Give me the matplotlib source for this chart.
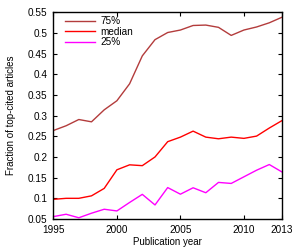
import matplotlib
matplotlib.use('Agg')
import matplotlib.pyplot as plt

years = list(range(1995, 2014))
p75 = [0.264, 0.2755, 0.2906, 0.285, 0.314, 0.336, 0.377, 0.4445, 0.4837, 0.501,
       0.507, 0.518, 0.519, 0.5135, 0.494, 0.507, 0.5144, 0.5245, 0.538]
median = [0.0976, 0.100, 0.100, 0.106, 0.124, 0.169, 0.181, 0.179, 0.200, 0.237,
          0.248, 0.2625, 0.248, 0.244, 0.248, 0.245, 0.2505, 0.270, 0.288]
p25 = [0.0558, 0.0615, 0.053, 0.064, 0.0736, 0.0695, 0.090, 0.1096, 0.084, 0.126,
       0.110, 0.1255, 0.1135, 0.1385, 0.136, 0.152, 0.168, 0.1817, 0.1637]

xticks = [1995, 2000, 2005, 2010, 2013]
yticks = [0.05, 0.1, 0.15, 0.2, 0.25, 0.3, 0.35, 0.4, 0.45, 0.5, 0.55]
ytick_labels = ['0.05', '0.1', '0.15', '0.2', '0.25', '0.3', '0.35', '0.4', '0.45', '0.5', '0.55']

plt.rcParams['font.family'] = ['Liberation Sans', 'DejaVu Sans']

fig = plt.figure(figsize=(3.0, 2.5), dpi=100)
ax = fig.add_axes([0.178, 0.124, 0.762, 0.827])

ax.plot(years, p75, color='#b33c3c', lw=1.0, label='75%')
ax.plot(years, median, color='#ff0000', lw=1.0, label='median')
ax.plot(years, p25, color='#ff00ff', lw=1.0, label='25%')

ax.set_xlim(1995, 2013)
ax.set_ylim(0.05, 0.55)
ax.set_xticks(xticks)
ax.set_yticks(yticks)
ax.set_yticklabels(ytick_labels)
ax.tick_params(direction='in', length=3, width=0.8, top=True, right=True,
               labelsize=7.2, pad=4.5, colors='black')
for s in ax.spines.values():
    s.set_linewidth(1.0)

ax.set_xlabel('Publication year', fontsize=7, labelpad=1.5)
ax.set_ylabel('Fraction of top-cited articles', fontsize=7, labelpad=8)

ax.legend(loc='upper left', frameon=False, fontsize=7.2, handlelength=3.0,
          handletextpad=0.5, labelspacing=0.05, borderaxespad=0.0,
          bbox_to_anchor=(0.035, 1.0))

fig.savefig('out.png', dpi=100)
